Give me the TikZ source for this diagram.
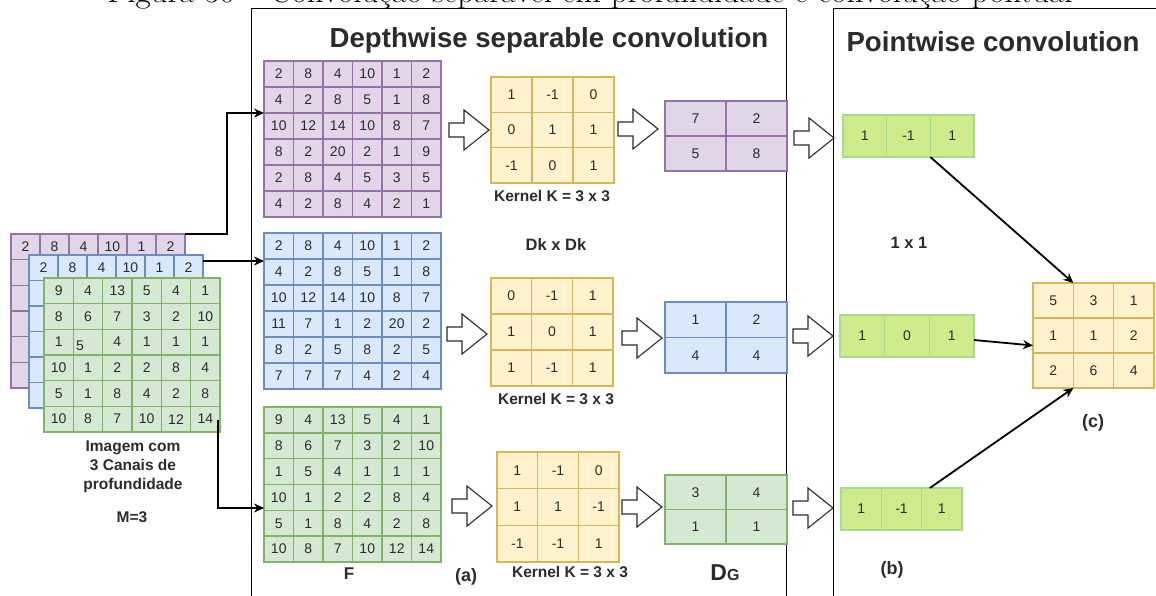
\documentclass[tikz,border=0pt]{standalone}
\usepackage{fontspec}
\newfontfamily\sans{Liberation Sans}
\usetikzlibrary{arrows.meta}
\definecolor{txt}{HTML}{2B2B2B}
\definecolor{pfill}{HTML}{E1D5E7}\definecolor{pdraw}{HTML}{9673A6}
\definecolor{bfill}{HTML}{DAE8FC}\definecolor{bdraw}{HTML}{6C8EBF}
\definecolor{gfill}{HTML}{D5E8D4}\definecolor{gdraw}{HTML}{82B366}
\definecolor{yfill}{HTML}{FFF2CC}\definecolor{ydraw}{HTML}{D6B656}
\definecolor{lfill}{HTML}{CDEB8B}\definecolor{ldraw}{HTML}{A9D98C}
\newcommand\numfont{\sans\fontsize{14}{14}\selectfont}
\newcommand\mkgrid[9]{%
  \pgfmathsetmacro\gcw{(#5-#3)/#7}%
  \pgfmathsetmacro\gch{(#6-#4)/#8}%
  \node[inner sep=0,outer sep=0,minimum width={(#5-#3)*1pt},minimum height={(#6-#4)*1pt},anchor=north west] (#1) at (#3,#4) {};
  \foreach \rowlist [count=\r from 0] in {#9} {
    \foreach \v [count=\c from 0] in \rowlist {
      \node[cellb,#2,minimum width=\gcw pt,minimum height=\gch pt] (#1-\r-\c) at ({#3+\gcw*(\c+0.5)},{#4+\gch*(\r+0.5)}) {\v};
    }
  }%
}
\newcommand\blockarrow[2]{%
  \draw[barr] ({#1},{#2-7}) -- ++(15,0) -- ++(0,-13) -- ({#1+40},{#2}) -- ({#1+15},{#2+20}) -- ++(0,-13) -- ({#1},{#2+7}) -- cycle;}
\tikzset{
  cellb/.style={draw, line width=1.6pt, inner sep=0, outer sep=0, font=\numfont, text=txt},
  purp/.style={fill=pfill, draw=pdraw},
  blu/.style={fill=bfill, draw=bdraw},
  grn/.style={fill=gfill, draw=gdraw},
  yel/.style={fill=yfill, draw=ydraw},
  lgr/.style={fill=lfill, draw=ldraw},
  panel/.style={draw=black, line width=1.3pt, inner sep=0, anchor=north west},
  title/.style={font=\sans\bfseries\fontsize{27.6}{27.6}\selectfont, text=txt, inner sep=0},
  lab/.style={font=\sans\bfseries\fontsize{15.5}{15.5}\selectfont, text=txt, inner sep=0},
  biglab/.style={font=\sans\bfseries\fontsize{18}{18}\selectfont, text=txt, inner sep=0},
  barr/.style={draw=txt, fill=white, line width=1.1pt, line join=miter},
  conn/.style={draw=black, line width=1.8pt, -{Stealth[length=10pt,width=9pt]}},
}
\begin{document}
\begin{tikzpicture}[x=1pt,y=-1pt]
\useasboundingbox (0,0) rectangle (1156,595);
\clip (0,0) rectangle (1156,595);
% caption (cut off at the top)
\node[anchor=base, inner sep=0, font=\fontsize{33}{33}\selectfont] (cap) at (590,2) {Figura 30 -- Convolução separável em profundidade e convolução pontual};
% panels
\node[panel, minimum width=535pt, minimum height=620pt] (dpanel) at (251,8) {};
\node[panel, minimum width=340pt, minimum height=620pt] (ppanel) at (833,8) {};
\node[title] (t1) at (549,40) {Depthwise separable convolution};
\node[title] (t2) at (993,42) {Pointwise convolution};
% left stack
\mkgrid{lp}{purp}{11}{234}{185}{388}{6}{6}{{2,8,4,10,1,2},{~,~,~,~,~,~},{~,~,~,~,~,~},{~,~,~,~,~,~},{~,~,~,~,~,~},{~,~,~,~,~,~}}
\mkgrid{lb}{blu}{29}{255}{203}{408}{6}{6}{{2,8,4,10,1,2},{~,~,~,~,~,~},{~,~,~,~,~,~},{~,~,~,~,~,~},{~,~,~,~,~,~},{~,~,~,~,~,~}}
\mkgrid{lg}{grn}{44}{278}{220}{432}{6}{6}{{9,4,13,5,4,1},{8,6,7,3,2,10},{1,~,4,1,1,1},{10,1,2,2,8,4},{5,1,8,4,2,8},{10,8,7,10,12,14}}
\node[font=\numfont, text=txt, inner sep=0] (five) at (80,346) {5};
\node[lab, align=center, font=\sans\bfseries\fontsize{15.5}{19}\selectfont] (img) at (133,467) {Imagem com\\3 Canais de\\profundidade};
\node[lab] (mlab) at (132,517) {M=3};
% depthwise inputs
\mkgrid{pbig}{purp}{264}{61}{441}{217}{6}{6}{{2,8,4,10,1,2},{4,2,8,5,1,8},{10,12,14,10,8,7},{8,2,20,2,1,9},{2,8,4,5,3,5},{4,2,8,4,2,1}}
\mkgrid{bbig}{blu}{264}{233}{441}{389}{6}{6}{{2,8,4,10,1,2},{4,2,8,5,1,8},{10,12,14,10,8,7},{11,7,1,2,20,2},{8,2,5,8,2,5},{7,7,7,4,2,4}}
\mkgrid{gbig}{grn}{264}{407}{441}{562}{6}{6}{{9,4,13,5,4,1},{8,6,7,3,2,10},{1,5,4,1,1,1},{10,1,2,2,8,4},{5,1,8,4,2,8},{10,8,7,10,12,14}}
\node[biglab, font=\sans\bfseries\fontsize{17}{17}\selectfont] (flab) at (349,574) {F};
\node[biglab] (alab) at (466,577) {(a)};
% kernels
\mkgrid{k1}{yel}{491}{77}{614}{183}{3}{3}{{1,-1,0},{0,1,1},{-1,0,1}}
\mkgrid{k2}{yel}{491}{278}{613}{386}{3}{3}{{0,-1,1},{1,0,1},{1,-1,1}}
\mkgrid{k3}{yel}{497}{452}{619}{562}{3}{3}{{1,-1,0},{1,1,-1},{-1,-1,1}}
\node[lab] (kl1) at (552,196) {Kernel K = 3 x 3};
\node[lab] (kl2) at (556,399) {Kernel K = 3 x 3};
\node[lab] (kl3) at (570,572) {Kernel K = 3 x 3};
\node[lab, font=\sans\bfseries\fontsize{16.5}{16.5}\selectfont] (dk) at (556,245) {Dk x Dk};
% outputs
\mkgrid{o1}{purp}{665}{101}{787}{171}{2}{2}{{7,2},{5,8}}
\mkgrid{o2}{blu}{665}{302}{787}{373}{2}{2}{{1,2},{4,4}}
\mkgrid{o3}{grn}{665}{475}{787}{544}{2}{2}{{3,4},{1,1}}
\node[anchor=base, inner sep=0, text=txt] (dg) at (725,580) {\sans\bfseries\fontsize{23}{23}\selectfont D\fontsize{16}{16}\selectfont G};
% block arrows
\blockarrow{449}{130}
\blockarrow{447}{334}
\blockarrow{452}{506}
\blockarrow{618}{129}
\blockarrow{622}{338}
\blockarrow{622}{507}
\blockarrow{794}{138}
\blockarrow{793}{336}
\blockarrow{793}{508}
% pointwise
\mkgrid{pa}{lgr}{843}{115}{974}{157}{3}{1}{{1,-1,1}}
\mkgrid{pb}{lgr}{840}{315}{974}{357}{3}{1}{{1,0,1}}
\mkgrid{pc}{lgr}{841}{488}{962}{530}{3}{1}{{1,-1,1}}
\node[lab, font=\sans\bfseries\fontsize{16.5}{16.5}\selectfont] (one) at (909,243) {1 x 1};
\node[biglab] (blab) at (892,570) {(b)};
\mkgrid{res}{yel}{1033}{283}{1154}{388}{3}{3}{{5,3,1},{1,1,2},{2,6,4}}
\node[biglab] (clab) at (1093,423) {(c)};
% connectors
\draw[conn] (lp.north east) -- ++(42,0) |- ([yshift=26pt]pbig.west);
\draw[conn] ([yshift=-6pt]lb.north east) -- ([yshift=50pt]bbig.west);
\draw[conn] ([xshift=-2pt,yshift=12pt]lg.south east) |- ([yshift=-23.5pt]gbig.west);
\draw[conn] (pa-0-2.south west) -- (res-0-0.north east);
\draw[conn] ([yshift=-4pt]pb.east) -- ([yshift=-10pt]res.west);
\draw[conn] ([xshift=-12pt]pc-0-2.north) -- (res-2-0.south east);
\end{tikzpicture}
\end{document}
